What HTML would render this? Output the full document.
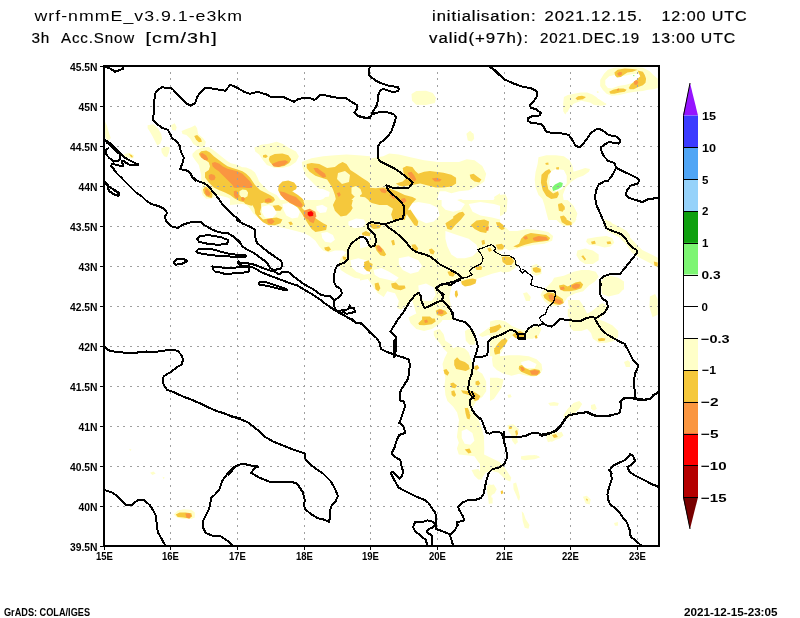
<!DOCTYPE html><html><head><meta charset="utf-8"><style>html,body{margin:0;padding:0;background:#fff;overflow:hidden}svg{display:block}</style></head><body><svg width="800" height="618" viewBox="0 0 800 618"><rect width="800" height="618" fill="#fff"/><defs><clipPath id="mc2"><rect x="105" y="67" width="553" height="478"/></clipPath></defs><g clip-path="url(#mc2)" stroke="none"><path fill="#ffffc8" d="M147.6,125.2 153.4,124.3 158.3,129.1 161.2,134.0 162.1,138.8 160.2,143.7 157.3,145.6 155.3,141.7 152.4,135.9 149.5,131.1 147.6,128.2Z M170.9,125.2 174.8,123.3 176.7,127.2 175.7,130.7 172.2,130.1Z M161.2,148.5 166.0,146.6 169.9,147.6 168.9,152.4 167.0,157.3 164.1,156.3 161.7,152.4Z M181.6,131.1 186.4,129.1 191.3,127.2 195.1,125.2 197.1,128.2 198.1,134.0 202.9,137.9 205.8,141.7 204.9,145.6 201.0,147.6 197.1,146.6 193.2,143.7 190.3,138.8 186.4,135.0 182.5,134.0Z M104.9,121.4 106.8,125.2 108.7,132.0 110.7,137.9 108.7,140.8 105.8,138.8 104.3,133.0Z M123.3,154.4 129.1,152.8 134.0,155.3 133.4,158.3 129.1,158.3 124.3,156.7Z M254.3,147.6 261.1,144.7 268.8,143.7 276.6,141.7 282.4,143.7 288.3,147.6 296.0,151.5 298.9,156.3 296.0,162.1 290.2,166.0 282.4,168.0 274.7,168.0 266.9,165.0 263.0,160.2 259.1,154.4 255.2,151.5Z M230.0,163.1 237.8,165.0 245.5,168.9 251.4,173.8 257.2,179.6 263.0,185.4 268.8,191.3 276.6,195.1 281.5,201.0 286.3,205.8 294.1,212.6 301.8,216.5 303.8,220.0 272.7,220.0 265.0,208.7 253.3,205.8 241.7,203.9 230.0,204.9Z M301.8,162.1 311.6,158.3 323.2,156.3 334.9,155.3 346.5,154.4 358.2,155.3 370.0,156.3 370.0,220.0 307.7,220.0 305.7,212.6 307.7,206.8 311.6,202.9 317.4,201.0 323.2,199.0 327.1,195.1 323.2,191.3 317.4,187.4 311.6,181.6 305.7,175.7 302.8,168.0Z M241.7,189.3 245.5,188.3 248.4,191.3 246.5,195.1 242.6,195.1Z M286.3,187.4 290.2,186.4 294.1,189.3 293.1,193.2 288.3,192.8Z M337.8,175.7 342.6,174.8 346.5,177.7 346.5,183.5 342.6,185.4 338.7,183.5Z M348.4,191.3 352.3,189.3 356.2,192.2 354.3,197.1 349.4,196.1Z M413.4,100.0 435.7,100.0 434.8,102.9 426.0,104.9 418.3,103.9 414.4,101.9Z M466.8,135.0 470.7,131.1 473.6,135.0 472.6,140.8 468.7,140.8Z M360.0,156.3 371.7,158.3 383.3,156.3 389.1,153.4 398.8,154.4 410.5,157.3 424.1,160.2 437.7,162.1 449.3,162.1 459.0,162.1 466.8,159.2 474.6,160.2 482.3,166.0 486.2,173.8 484.3,181.6 478.4,185.4 468.7,190.3 459.0,191.3 451.3,193.2 445.4,191.3 439.6,191.3 437.7,197.1 436.7,204.9 437.7,214.6 445.4,220.0 360.0,220.0Z M453.2,201.0 461.0,199.0 468.7,202.9 476.5,207.8 486.2,211.7 495.9,214.6 500.0,214.6 500.0,220.0 453.2,220.0Z M494.0,197.1 500.0,193.2 500.0,202.9 495.9,202.9Z M563.8,100.0 571.6,100.0 570.6,105.8 567.7,111.7 564.8,113.6 563.8,107.8Z M591.0,100.0 598.7,100.0 604.6,102.9 600.7,105.8 594.9,104.9Z M538.5,157.3 546.3,155.3 556.0,155.3 563.8,156.3 569.6,160.2 572.5,166.0 573.5,171.8 579.3,169.9 585.1,168.0 590.0,168.9 589.0,171.8 583.2,175.7 577.4,177.7 571.6,181.6 565.7,187.4 562.8,195.1 563.8,201.0 567.7,204.9 571.6,208.7 575.4,214.6 576.4,220.0 548.3,220.0 546.3,212.6 544.4,204.9 542.4,199.0 538.5,195.1 535.6,187.4 534.7,179.6 535.6,171.8 537.6,164.1Z M493.9,199.0 499.7,195.1 505.5,194.2 507.5,199.0 506.5,206.8 503.6,212.6 499.7,214.6 494.9,208.7 492.9,202.9Z M490.0,216.5 495.8,217.5 497.8,220.0 490.0,220.0Z M600.2,80.1 604.0,73.7 607.9,69.8 614.4,67.8 624.8,67.2 635.1,67.2 642.9,67.8 649.4,71.1 653.3,75.0 657.8,78.8 657.8,87.9 653.3,89.2 648.1,89.8 642.9,91.1 635.1,91.8 627.4,93.1 619.6,95.0 611.8,95.7 606.6,93.7 602.7,89.8 600.2,86.0Z M563.9,97.0 567.8,95.0 574.2,93.7 580.7,92.4 587.2,92.4 592.4,94.4 596.3,97.0 598.9,99.6 602.7,102.2 606.6,103.5 604.0,104.7 598.9,105.4 593.7,104.7 588.5,101.5 584.6,99.6 579.4,100.2 574.2,100.9 570.4,102.2 569.1,106.0 567.8,111.2 565.2,114.5 563.2,111.2 563.2,103.5Z M596.9,91.1 598.9,91.8 598.2,93.1 596.9,92.8Z M411.5,94.0 416.3,91.1 426.0,90.7 432.8,93.1 436.1,97.9 433.8,102.8 426.0,105.1 416.3,104.7 412.0,100.8Z M466.4,133.8 469.7,130.9 473.6,133.8 474.2,138.7 471.7,141.6 467.8,140.6Z M563.8,100.8 571.6,96.0 581.3,93.1 591.0,95.0 598.7,98.9 604.6,102.8 606.5,104.7 600.7,105.7 591.0,102.8 581.3,100.8 573.5,103.7 567.7,110.5 564.8,113.5 563.4,107.6Z M230.0,200.0 370.0,200.0 370.0,277.7 364.0,279.6 354.3,277.7 346.5,273.8 340.7,269.9 338.7,264.1 340.7,258.3 346.5,252.4 342.6,250.5 334.9,250.5 329.0,252.4 323.2,250.5 319.3,246.6 315.4,240.8 309.6,235.9 303.8,233.0 296.0,231.1 288.3,229.1 280.5,227.2 272.7,225.2 265.0,222.3 259.1,218.4 253.3,213.6 249.4,207.8 245.5,203.9 237.8,201.9 230.0,201.9Z M360.0,200.0 500.0,200.0 500.0,320.0 418.3,320.0 411.5,298.1 405.6,306.8 402.7,308.2 398.4,303.9 391.1,299.4 385.2,298.1 376.5,292.2 372.2,284.9 367.8,279.0 360.0,280.6Z M490.0,200.0 507.5,200.0 506.5,211.7 501.7,215.5 493.9,217.5 490.0,217.5Z M544.4,200.0 567.7,200.0 573.5,205.8 577.4,213.6 575.4,221.4 571.6,225.2 563.8,226.2 558.0,221.4 552.1,215.5 546.3,209.7Z M490.0,219.4 497.8,221.4 505.5,227.2 509.4,231.1 517.2,231.1 526.9,229.1 538.5,230.1 548.3,232.0 553.1,235.9 552.1,240.8 544.4,243.7 534.7,244.7 525.0,246.6 517.2,248.5 509.4,250.5 505.5,248.5 501.7,250.5 495.8,252.4 490.0,252.4Z M495.8,252.4 503.6,254.4 511.4,256.3 517.2,262.1 515.2,268.0 509.4,271.8 503.6,272.8 497.8,269.9 493.9,264.1 491.9,256.3Z M530.8,266.0 536.6,264.1 541.5,267.0 541.5,273.8 536.6,275.7 531.7,273.8Z M587.1,238.8 596.8,236.9 606.5,235.9 612.3,237.9 614.3,242.7 610.4,246.6 604.6,247.6 596.8,245.6 589.0,244.7 586.1,241.7Z M577.4,250.5 585.1,248.5 592.9,250.5 598.7,254.4 598.7,260.2 592.9,264.1 585.1,264.1 579.3,260.2 576.4,255.3Z M602.6,219.4 610.4,221.4 614.3,225.2 608.4,227.2 603.6,224.3Z M618.2,229.1 625.9,230.1 630.0,235.0 630.0,246.6 625.9,242.7 622.0,236.9 618.2,233.0Z M554.1,277.7 563.8,275.7 573.5,271.8 581.3,269.9 589.0,269.9 595.8,271.8 598.7,276.7 594.9,281.6 589.0,285.4 583.2,291.3 575.4,293.2 567.7,297.1 563.8,302.9 558.0,305.8 550.2,305.8 544.4,301.0 540.5,295.1 542.4,291.3 548.3,285.4 552.1,281.6Z M602.6,277.7 610.4,275.7 618.2,277.7 624.0,281.6 624.0,289.3 618.2,293.2 610.4,293.2 604.6,291.3 601.7,285.4Z M523.0,293.2 526.9,292.2 530.8,297.1 529.8,301.0 525.9,301.0Z M598.7,304.9 602.6,302.9 606.5,305.8 606.5,312.6 600.7,314.6 597.8,310.7Z M567.7,308.7 573.5,307.8 575.4,314.6 571.6,318.4 567.7,316.5Z M604.6,218.9 613.7,224.0 624.0,229.2 631.8,239.6 642.2,249.9 652.5,255.1 657.7,257.7 657.7,268.1 649.9,262.9 639.6,257.7 631.8,252.5 626.6,244.8 618.9,237.0 608.5,231.8 603.3,226.6Z M649.9,296.6 655.1,294.0 657.7,299.2 657.7,314.7 652.5,317.3 649.4,306.9Z M600.7,281.0 608.5,278.4 618.9,283.6 624.0,288.8 618.9,294.0 608.5,296.6 602.0,294.0Z M396.9,300.0 410.5,300.0 406.6,305.8 400.8,309.7 396.9,307.8Z M408.5,317.5 416.3,313.6 426.0,311.7 433.8,307.8 439.6,303.9 447.4,301.9 457.1,300.0 461.0,300.0 459.0,303.9 451.3,309.7 445.4,315.5 441.6,321.4 437.7,325.2 431.8,329.1 424.1,331.1 416.3,329.1 410.5,323.3Z M433.8,331.1 439.6,329.1 443.5,334.0 445.4,340.8 451.3,344.7 453.2,348.5 457.1,346.6 464.9,348.5 468.7,352.4 470.7,358.3 472.6,364.1 476.5,369.9 482.3,373.8 486.2,381.6 486.2,391.3 482.3,397.1 476.5,401.0 472.6,406.8 470.7,414.6 468.7,420.0 459.0,420.0 457.1,412.6 453.2,406.8 447.4,401.0 445.4,395.1 444.5,385.4 445.4,377.7 443.5,369.9 442.5,364.1 444.5,358.3 447.4,352.4 443.5,348.5 439.6,342.7 435.7,338.8 433.8,335.0Z M464.9,331.1 468.7,329.1 474.6,331.1 476.5,338.8 474.6,344.7 469.7,344.7 465.8,340.8Z M478.4,335.0 484.3,331.1 492.0,325.2 500.0,321.4 500.0,338.8 494.0,336.9 488.2,335.0 482.3,336.9Z M492.0,354.4 497.9,352.4 500.0,354.4 500.0,369.9 495.9,368.0 493.0,362.1Z M490.0,321.4 497.8,319.4 505.5,321.4 512.3,326.2 519.1,329.1 526.9,331.1 532.7,327.2 538.5,325.2 541.5,329.1 538.5,335.9 532.7,338.8 525.9,338.8 519.1,337.9 512.3,335.9 508.4,339.8 503.6,348.5 499.7,354.4 493.9,356.3 490.0,356.3Z M491.9,358.3 499.7,356.3 509.4,355.3 519.1,355.3 528.8,356.3 536.6,359.2 541.5,364.1 542.4,369.9 539.5,374.8 533.7,376.7 526.9,375.7 519.1,373.8 511.4,375.7 503.6,373.8 496.8,369.9 492.9,366.0Z M490.0,377.7 497.8,377.7 503.6,379.6 501.7,387.4 497.8,393.2 493.9,399.0 490.0,401.0Z M567.7,300.0 579.3,300.0 583.2,305.8 587.1,313.6 591.0,311.7 598.7,305.8 604.6,303.9 606.5,309.7 602.6,315.5 598.7,319.4 604.6,321.4 612.3,325.2 618.2,331.1 618.2,336.9 614.3,340.8 606.5,342.7 598.7,342.7 592.9,338.8 591.0,333.0 587.1,329.1 581.3,331.1 573.5,331.1 569.6,327.2 568.6,319.4 571.6,311.7 568.6,305.8Z M563.8,414.6 567.7,408.7 573.5,402.9 579.3,401.0 582.2,403.9 579.3,408.7 573.5,414.6 567.7,418.4 563.8,418.4Z M507.5,395.1 510.4,394.2 511.7,397.1 508.4,398.1Z M591.0,404.9 594.9,403.9 596.8,408.7 593.9,410.7 591.0,408.7Z M624.0,362.1 627.9,360.2 630.0,362.1 630.0,367.0 625.9,367.0Z M449.1,400.0 470.5,400.0 468.5,405.8 472.4,411.7 478.3,419.4 482.1,429.1 484.1,438.8 482.1,446.6 484.1,454.4 491.8,458.3 499.6,462.1 503.5,466.0 507.4,471.8 511.3,477.7 510.3,481.6 505.4,479.6 497.7,471.8 489.9,469.9 482.1,466.0 478.3,462.1 474.4,456.3 466.6,455.3 458.8,454.4 456.9,448.5 458.8,442.7 456.9,436.9 457.9,429.1 458.8,421.4 460.8,413.6 458.8,407.8 453.0,403.9Z M471.5,469.9 478.3,468.9 482.1,473.8 482.1,479.6 478.3,479.6 474.4,475.7Z M487.0,485.4 493.8,484.5 496.7,489.3 494.8,493.2 491.8,495.1 489.9,501.0 491.8,502.9 488.9,503.9 488.0,497.1 487.0,491.3Z M513.2,483.5 516.1,482.5 518.1,489.3 520.0,497.1 519.0,501.0 516.1,495.1 513.6,489.3Z M507.4,425.2 513.2,424.3 519.0,429.1 517.1,436.9 517.1,442.7 515.1,444.7 512.2,440.8 511.3,435.0 508.3,431.1Z M521.0,456.3 528.7,455.3 536.5,455.3 540.4,457.3 534.6,459.2 524.9,460.2 521.0,459.2Z M546.2,433.0 554.0,431.1 558.8,433.0 557.9,438.8 552.0,441.7 547.2,440.8Z M548.2,402.9 554.0,401.9 558.8,402.9 557.9,405.8 550.1,405.8Z M480.0,433.6 483.9,435.5 484.3,449.1 483.9,459.8 491.7,460.8 499.4,464.7 504.3,469.5 509.1,474.4 511.1,479.2 507.2,480.2 502.3,476.3 498.4,472.4 491.7,470.9 485.8,472.4 481.9,478.3 480.0,478.3Z M513.0,437.5 516.9,437.5 517.9,442.3 515.0,444.3 513.0,441.4Z M520.8,456.9 526.6,455.9 534.4,455.0 539.2,455.9 536.3,457.9 528.5,458.8 522.7,459.8Z M546.0,437.5 553.8,434.6 561.6,431.7 563.5,435.5 559.6,438.4 553.8,440.4 548.0,442.3Z M488.7,484.1 493.6,486.0 496.5,489.9 493.6,493.8 490.7,493.8 488.7,489.9Z M489.7,496.7 492.6,497.7 492.6,503.5 490.1,503.5Z M514.0,484.1 516.9,486.0 518.8,493.8 519.8,499.6 517.9,499.6 515.0,491.8Z M521.7,511.3 523.7,513.2 525.6,519.0 529.5,524.9 528.5,528.7 524.7,527.8 522.7,521.0Z M582.9,496.7 586.8,495.7 590.7,499.6 589.7,504.5 585.8,503.5Z M614.0,522.9 617.9,521.9 617.9,525.8 615.0,525.8Z M173.8,514.5 177.7,510.6 183.5,509.3 191.3,509.7 194.8,512.6 194.8,517.4 191.3,519.0 183.5,519.0 176.7,517.4Z M129.1,448.7 131.5,449.5 130.3,451.0Z M150.1,472.8 153.4,471.4 155.7,473.4 152.4,474.9Z M162.5,476.7 164.7,477.4 163.7,479.2Z M192.5,153.8 196.2,150.0 202.5,147.5 208.8,146.9 215.0,151.2 221.2,156.2 227.5,161.2 233.8,165.0 240.0,166.9 246.2,167.5 251.2,169.4 255.0,172.5 257.5,177.5 260.0,183.8 262.5,188.8 267.5,192.5 275.0,195.0 277.5,198.8 277.5,202.5 273.8,205.0 267.5,206.2 263.8,207.5 262.5,211.2 262.5,215.0 255.0,215.0 252.5,210.0 247.5,205.0 242.5,203.8 237.5,202.5 232.5,200.0 227.5,197.5 222.5,196.2 217.5,195.0 213.8,197.5 211.2,198.8 206.2,198.8 202.5,195.0 201.2,190.0 202.5,185.0 201.2,180.0 201.2,175.0 200.0,170.0 198.8,165.0 195.0,160.0 192.5,156.2Z"/><path fill="#ffffff" d="M550.2,171.8 556.0,168.9 563.8,169.9 566.7,175.7 566.7,183.5 561.8,189.3 557.0,191.3 551.2,189.3 549.2,183.5Z M605.3,80.1 609.2,76.2 614.4,75.0 620.9,76.2 626.1,75.6 631.2,74.3 637.7,73.7 641.0,75.0 639.0,78.8 632.5,82.7 626.1,84.7 618.3,86.0 611.8,88.6 607.9,87.9 605.3,84.7Z M262.0,206.8 268.8,204.9 275.6,207.8 276.6,213.6 271.7,218.4 265.0,217.5 262.0,212.6Z M282.4,203.9 288.3,202.9 296.0,205.8 299.9,211.7 298.0,217.5 292.1,218.4 286.3,215.5 283.4,209.7Z M348.4,221.4 356.2,218.4 364.0,219.4 365.9,223.3 362.0,227.2 354.3,228.2 348.4,225.2Z M350.4,260.2 358.2,258.3 365.9,260.2 370.0,264.1 370.0,273.8 364.0,274.8 356.2,271.8 351.4,267.0Z M321.3,233.0 327.1,232.0 332.9,235.0 334.9,239.8 331.0,242.7 325.1,241.7 322.2,237.9Z M408.5,203.9 418.3,201.9 429.9,203.9 437.7,207.8 439.6,215.5 433.8,221.4 426.0,223.3 418.3,219.4 412.4,213.6Z M360.0,235.0 365.8,234.0 369.7,238.8 367.8,246.6 360.0,248.5Z M373.6,269.9 381.4,268.0 389.1,271.8 398.8,277.7 395.0,281.6 387.2,279.6 379.4,277.7 374.6,274.8Z M441.6,200.0 457.1,200.0 464.9,203.9 461.0,209.7 453.2,211.7 445.4,209.7 441.6,205.8Z M468.7,203.9 480.4,201.9 494.0,203.9 500.0,205.8 500.0,219.4 492.0,217.5 480.4,215.5 472.6,211.7Z M445.4,231.1 457.1,235.0 468.7,238.8 476.5,244.7 478.4,250.5 472.6,256.3 464.9,258.3 457.1,258.3 451.3,254.4 447.4,246.6 445.4,238.8Z M453.2,281.6 468.7,281.6 480.4,277.7 492.0,273.8 500.0,271.8 500.0,320.0 453.2,320.0 451.3,308.7 449.3,297.1 451.3,287.4Z M367.8,287.4 375.5,289.3 379.4,297.1 377.5,304.9 371.7,308.7 365.8,304.9 363.9,297.1Z M387.2,291.3 395.0,293.2 398.8,301.0 396.9,308.7 391.1,312.6 383.3,310.7 381.4,301.0Z M398.8,258.3 408.5,256.3 418.3,260.2 422.1,266.0 418.3,271.8 410.5,273.8 402.7,269.9 398.8,264.1Z M418.3,285.4 426.0,283.5 433.8,287.4 435.7,295.1 431.8,301.0 424.1,301.0 419.2,295.1Z M521.1,362.1 528.8,360.2 536.6,364.1 534.7,368.0 526.9,368.0 522.0,366.0Z M461.7,431.1 466.6,429.1 472.4,433.0 474.4,440.8 470.5,444.7 464.7,443.7 461.7,437.9Z M305.0,190.5 312.5,188.2 323.0,189.0 329.7,192.0 329.0,196.5 320.0,198.0 311.0,197.2 305.7,195.0Z M316.2,206.2 322.2,204.7 327.5,207.7 326.0,212.2 320.0,213.0 316.7,210.0Z"/><path fill="#f5c83c" d="M194.2,135.9 197.1,135.0 201.0,138.8 201.9,141.7 199.0,142.3 196.1,139.8Z M202.9,189.3 205.8,186.4 209.7,189.3 212.6,194.2 211.7,198.1 207.8,197.1 203.9,193.2Z M129.1,154.0 132.0,155.3 133.0,157.3 131.1,157.3Z M269.8,156.3 274.7,154.0 282.4,153.4 288.3,155.3 291.2,159.2 289.2,163.1 284.4,166.0 278.5,167.0 273.7,166.0 269.8,162.1 268.8,159.2Z M263.0,155.3 265.9,154.4 267.9,156.3 265.9,157.9 263.0,157.3Z M278.5,185.4 282.4,181.6 288.3,180.6 294.1,182.5 297.0,186.4 296.0,189.3 292.1,191.3 298.0,195.1 302.8,199.0 304.8,204.9 301.8,207.8 296.0,205.8 290.2,202.9 284.4,199.0 280.5,195.1 278.2,190.3Z M306.7,164.1 311.6,163.1 319.3,164.1 327.1,168.0 334.9,167.0 338.7,164.1 342.6,162.1 346.5,164.1 350.4,169.9 356.2,173.8 362.0,177.7 367.9,181.6 370.0,183.5 370.0,201.0 365.9,199.0 362.0,195.1 358.2,193.2 354.3,197.1 350.4,201.0 346.5,204.9 344.6,210.7 346.5,214.6 342.6,216.5 338.7,214.6 334.9,210.7 332.9,204.9 335.8,199.0 334.9,195.1 332.9,189.3 331.0,185.4 327.1,179.6 321.3,177.7 315.4,175.7 309.6,171.8 306.7,168.0Z M402.7,168.0 406.6,166.0 412.4,167.0 415.3,170.9 418.3,173.8 424.1,171.8 429.9,170.9 435.7,171.8 443.5,172.8 451.3,174.8 456.1,177.7 456.1,183.5 451.3,186.4 443.5,187.4 435.7,187.4 428.0,185.4 420.2,183.5 414.4,184.5 408.5,185.4 402.7,186.4 398.8,185.4 395.9,183.5 402.7,181.6 406.6,177.7 403.7,173.8Z M360.0,185.4 367.8,187.4 375.5,188.3 383.3,187.4 389.1,188.3 396.9,191.3 404.7,195.1 412.4,197.1 416.3,199.0 412.4,202.9 408.5,208.7 406.6,214.6 404.7,220.0 393.0,220.0 391.1,214.6 393.0,208.7 387.2,204.9 379.4,204.9 371.7,202.9 365.8,199.0 360.0,198.1Z M469.7,174.8 473.6,173.8 477.5,176.7 481.4,179.6 479.4,182.5 474.6,181.6 470.7,178.6Z M453.2,216.5 459.0,212.6 462.9,211.7 464.9,214.6 461.0,218.4 457.1,220.0 453.2,220.0Z M541.5,174.8 545.3,170.9 549.2,168.9 551.2,171.8 548.3,174.8 546.7,181.6 548.3,189.3 553.1,193.6 558.0,191.3 558.9,194.2 557.0,198.1 551.2,199.0 546.3,196.1 542.8,190.3 540.9,182.5Z M545.3,163.1 548.3,162.5 548.6,164.7 545.9,164.7Z M556.0,167.6 558.9,167.0 558.9,169.5 556.4,169.5Z M558.0,204.9 561.8,203.9 564.8,207.8 562.8,211.7 558.9,210.7Z M560.9,216.5 563.8,215.5 566.7,218.4 564.8,220.0 560.9,220.0Z M614.4,72.4 617.6,69.8 624.8,68.5 632.5,69.1 637.7,69.8 632.5,71.7 627.4,72.4 623.5,75.0 620.9,76.9 617.0,77.5 615.1,75.6Z M637.7,70.4 642.9,71.7 644.8,75.0 646.1,78.8 645.5,82.7 642.9,85.3 637.7,87.3 633.8,89.2 629.9,89.2 628.7,87.9 630.6,84.7 633.8,82.1 637.7,78.8 640.3,76.2 639.0,73.7Z M609.2,91.8 613.1,89.8 618.3,88.6 623.5,88.6 626.7,89.8 624.8,91.8 619.6,92.4 614.4,93.7 610.5,93.7Z M575.5,98.3 578.1,96.3 582.0,95.7 585.9,97.0 584.6,98.3 580.7,98.9 577.5,100.2Z M575.4,97.9 581.3,96.0 585.1,97.0 583.2,99.3 577.4,99.9Z M241.7,200.0 257.2,200.0 255.2,203.9 251.4,205.8 245.5,203.9Z M253.3,201.9 261.1,200.0 261.1,207.8 259.1,215.5 263.0,219.4 268.8,218.4 276.6,217.5 282.4,219.4 280.5,223.3 274.7,225.2 268.8,225.2 263.0,222.3 259.1,218.4 255.2,213.6 254.3,207.8Z M272.7,205.8 278.5,204.9 282.4,207.8 280.5,210.7 275.6,210.7Z M286.3,200.0 303.8,200.0 301.8,207.8 305.7,211.7 311.6,215.5 317.4,219.4 323.2,223.3 327.1,225.2 326.1,230.1 321.3,231.1 315.4,232.0 311.6,229.1 307.7,223.3 304.8,218.4 301.8,213.6 298.0,207.8 292.1,203.9Z M288.3,222.3 291.2,221.4 293.1,224.3 290.2,225.2Z M334.9,203.9 342.6,200.0 356.2,200.0 354.3,205.8 350.4,211.7 346.5,215.5 340.7,216.5 335.8,211.7Z M324.2,247.6 329.0,246.6 331.0,249.5 328.1,251.5 325.1,250.1Z M342.6,256.3 346.5,257.3 345.5,260.2 343.0,259.2Z M364.0,262.1 368.8,260.2 370.0,264.1 370.0,271.8 366.9,270.9 365.0,267.0Z M362.0,233.0 365.9,231.1 370.0,233.0 370.0,235.9 365.9,235.9Z M375.5,200.0 398.8,200.0 400.8,203.9 395.0,204.9 385.2,203.9 377.5,203.9Z M405.6,210.7 410.5,209.7 414.4,215.5 418.3,221.4 417.3,226.2 414.4,225.2 410.5,219.4 407.6,215.5Z M445.4,223.3 451.3,219.4 457.1,215.5 462.9,211.7 464.9,214.6 461.0,219.4 455.1,225.2 451.3,230.1 447.4,229.1Z M470.7,225.2 476.5,220.4 484.3,219.4 489.1,221.4 488.2,227.2 486.2,233.0 480.4,232.0 474.6,229.1Z M369.7,223.3 375.5,224.3 381.4,225.2 379.4,228.2 373.6,229.1 370.7,227.2Z M361.9,233.0 365.8,232.0 368.7,234.0 365.8,235.9 362.3,235.3Z M374.6,245.6 378.4,244.7 383.3,249.5 386.2,254.4 384.3,256.3 380.4,255.3 376.5,250.5Z M391.1,240.8 394.0,239.8 395.0,244.7 392.6,245.6Z M411.5,244.7 415.3,244.3 418.3,248.5 416.3,251.5 413.4,250.1Z M428.9,249.5 431.8,248.5 434.8,251.5 433.4,254.4 430.3,253.4Z M363.9,264.1 368.7,262.1 372.6,264.1 371.7,268.9 366.8,270.9 363.9,268.0Z M374.6,283.5 378.4,282.5 380.4,288.3 378.4,291.3 375.5,289.3Z M391.1,283.5 395.9,282.5 398.8,285.4 404.7,285.4 405.6,288.3 400.8,290.3 395.0,289.3 392.0,287.4Z M447.4,271.8 451.3,270.9 455.1,273.8 453.2,276.7 449.3,275.7Z M461.0,281.6 466.8,279.6 472.6,278.6 476.5,279.6 475.5,283.5 470.7,285.4 464.9,286.4 461.9,284.5Z M474.6,266.0 478.4,265.0 482.3,267.0 481.4,269.9 476.5,269.9Z M455.1,291.3 457.1,290.3 458.1,295.1 456.1,298.1 454.8,295.1Z M435.7,310.7 439.6,308.7 444.5,310.7 445.4,314.6 441.6,316.5 436.7,314.6Z M481.4,240.8 484.3,239.8 485.2,243.7 482.3,245.0Z M487.2,248.5 490.1,247.6 492.0,250.5 489.1,252.0Z M422.1,316.5 429.9,316.5 433.8,320.0 422.1,320.0Z M558.0,203.9 561.8,202.9 564.8,206.8 564.8,209.7 559.9,209.7Z M559.9,216.5 563.8,215.5 566.7,219.4 571.6,222.3 571.6,225.2 566.7,225.2 561.8,222.3Z M495.8,222.3 499.7,222.3 503.6,225.2 504.6,229.1 501.7,230.1 497.8,227.2Z M513.3,246.6 519.1,243.7 521.1,238.8 525.0,235.0 530.8,233.0 538.5,234.0 546.3,235.0 550.2,237.9 548.3,240.8 540.5,241.7 532.7,242.7 525.0,244.7 517.2,247.6Z M495.8,244.7 501.7,243.7 504.6,246.6 502.6,249.5 497.8,249.5Z M501.7,257.3 505.5,256.3 511.4,257.3 514.3,261.2 511.4,265.0 506.5,265.0 502.6,262.1Z M532.7,268.0 536.6,267.0 540.9,268.9 540.5,272.2 535.6,272.8 533.1,270.9Z M558.9,285.4 563.8,284.5 567.7,286.4 571.6,284.5 575.4,282.5 580.3,281.6 583.2,284.5 581.3,288.3 575.4,290.3 569.6,291.3 563.8,291.3 559.9,289.3Z M543.4,295.1 548.3,292.2 554.1,293.2 558.0,296.1 562.8,299.0 563.8,302.9 559.9,304.9 554.1,303.9 548.3,301.0 544.4,298.1Z M581.3,256.3 583.2,255.3 586.1,259.2 584.8,260.6Z M591.0,241.7 594.9,240.8 595.8,243.7 591.9,244.3Z M606.5,241.7 610.4,241.2 611.4,243.7 607.5,244.3Z M653.8,261.6 657.7,262.4 657.7,266.8 654.4,265.5Z M418.3,323.3 422.1,319.4 428.0,318.4 434.8,318.4 435.7,321.4 431.8,324.3 424.1,325.2 419.2,324.9Z M435.7,310.7 439.6,308.7 445.4,310.7 447.4,313.6 443.5,315.5 437.7,315.5Z M489.1,329.1 494.0,326.2 500.0,324.3 500.0,329.1 495.9,332.0 491.1,333.0Z M494.0,348.5 497.9,345.6 500.0,345.6 500.0,353.4 495.9,354.4Z M454.2,360.2 457.1,357.3 460.0,360.2 464.9,362.1 468.7,365.0 469.7,368.9 465.8,370.9 461.0,369.9 456.1,368.9 454.2,365.0Z M474.6,366.0 477.5,365.0 479.4,368.0 476.5,370.3 474.2,368.9Z M443.5,369.9 446.4,368.9 449.3,372.8 447.4,375.7 444.5,373.8Z M450.3,383.5 453.2,382.5 457.1,385.4 455.1,388.3 451.3,387.4Z M451.3,391.3 454.2,390.3 456.1,395.1 454.2,397.1 451.7,395.1Z M461.0,390.3 466.8,390.9 472.6,391.3 476.5,393.2 480.4,396.1 478.4,400.0 474.6,401.0 472.6,397.1 468.7,395.1 462.9,393.2Z M475.5,381.6 478.4,380.6 480.4,383.5 478.1,385.8 475.5,384.5Z M464.9,408.7 467.8,407.8 469.7,412.6 468.7,416.5 465.8,414.6Z M490.0,327.2 493.9,326.2 499.7,324.3 501.7,327.2 497.8,330.1 491.9,333.0 490.0,333.0Z M493.9,350.5 495.8,346.6 498.7,342.7 501.7,339.8 505.5,337.9 507.5,340.8 504.6,345.6 500.7,349.5 497.8,353.4 494.9,354.4Z M512.3,335.0 516.2,332.0 520.1,331.1 524.0,333.0 525.0,336.9 521.1,338.8 515.2,337.9Z M534.7,335.9 536.6,335.0 537.6,337.9 535.6,338.8Z M519.1,366.0 522.0,365.0 525.0,368.0 529.8,369.9 534.7,368.9 539.5,369.9 540.5,372.8 536.6,375.7 530.8,375.7 525.9,373.8 521.1,371.8 518.7,368.9Z M597.8,338.8 601.7,337.9 605.5,338.4 604.6,340.8 598.7,341.2Z M464.7,407.8 467.6,408.7 470.5,415.5 469.5,419.4 467.0,418.4 465.6,413.6Z M464.7,449.5 469.5,448.5 471.5,452.4 468.5,453.4Z M509.3,426.2 512.2,427.2 511.3,429.1 508.9,428.7Z M515.1,431.1 517.1,430.1 518.1,434.0 516.1,435.9Z M552.0,435.0 555.9,434.0 557.9,436.9 554.0,437.9Z M500.6,491.3 502.5,490.3 503.5,493.2 501.2,494.2Z M585.8,498.6 587.8,499.2 587.2,501.6Z M175.7,514.5 179.6,512.6 185.4,512.6 191.3,513.2 192.2,516.5 189.3,518.4 183.5,517.4 177.7,517.0Z M198.8,153.8 201.2,151.2 206.2,150.6 210.0,152.5 213.8,156.2 218.8,160.0 223.8,163.8 227.5,166.2 232.5,168.1 237.5,169.4 242.5,171.2 246.2,173.8 250.0,177.5 252.5,181.2 255.0,185.0 257.5,187.5 260.0,190.0 265.0,192.5 270.0,195.0 273.8,197.5 275.0,200.0 272.5,202.5 267.5,203.8 263.8,202.5 260.0,203.8 258.8,207.5 260.0,211.2 261.2,215.0 256.2,215.0 255.0,210.0 252.5,205.0 248.8,202.5 245.0,202.5 240.0,201.2 235.0,198.8 230.0,195.0 225.0,192.5 218.8,190.0 213.8,187.5 208.8,182.5 205.0,177.5 205.0,172.5 208.8,170.0 210.0,166.2 208.8,162.5 203.8,158.8 200.0,156.2Z M203.8,187.5 206.2,186.9 208.8,189.4 211.9,192.5 212.5,196.2 210.0,197.5 206.2,196.2 203.8,192.5Z"/><path fill="#ffffc8" d="M338.0,173.0 345.0,171.0 350.0,175.0 349.0,182.0 342.0,184.0 337.0,179.0Z M239.4,191.2 242.5,189.4 246.2,190.0 248.1,192.5 247.5,196.2 245.0,197.8 241.2,196.9 239.4,194.4Z M351.5,187.5 356.0,186.0 360.5,189.0 362.0,193.5 359.0,196.5 354.5,196.5 351.5,193.5Z M353.0,199.5 359.0,196.5 365.0,197.2 368.7,200.2 369.5,205.5 365.0,209.2 359.0,210.7 353.7,210.0 351.5,205.5Z"/><path fill="#fa9641" d="M204.9,191.3 207.8,189.7 210.7,193.2 208.7,196.1 205.8,194.8Z M271.7,164.1 278.5,161.2 285.3,160.2 288.3,162.1 284.4,165.0 278.5,167.0 273.7,166.4Z M279.5,191.3 284.4,192.2 290.2,195.1 296.0,197.1 299.9,201.0 302.8,204.9 300.9,207.8 296.0,205.8 290.2,202.9 284.4,199.0 280.9,195.1Z M313.5,168.0 317.4,168.0 321.3,170.9 325.1,173.8 326.1,176.7 323.2,177.7 319.3,174.8 315.4,171.8Z M336.8,193.2 339.7,192.2 340.7,195.1 338.7,197.1Z M303.8,210.7 309.6,208.7 315.4,211.7 316.4,216.5 313.5,219.4 307.7,219.4 303.8,216.5Z M407.6,172.8 411.5,171.8 414.4,175.7 416.3,179.6 414.4,181.6 410.5,178.6Z M431.8,178.6 436.7,177.7 441.6,179.6 439.6,181.6 434.8,181.6Z M379.4,189.3 383.3,188.3 387.2,191.3 385.2,193.2 381.4,192.2Z M389.1,195.1 393.0,194.2 396.9,197.1 394.0,199.0Z M400.8,199.0 404.7,198.1 406.6,201.0 403.7,202.9Z M617.0,73.7 619.6,71.7 622.2,72.4 621.5,75.0 618.9,76.0Z M633.8,81.4 636.4,80.1 638.4,82.1 637.1,84.7 634.5,84.7Z M617.0,89.2 618.9,88.6 618.9,90.5 617.3,90.8Z M266.9,219.4 271.7,218.4 274.7,221.4 271.7,224.3 267.9,223.3Z M304.8,210.7 309.6,209.7 314.5,212.6 315.4,218.4 313.5,223.3 309.6,221.4 306.7,216.5Z M289.2,200.0 296.0,200.0 297.0,202.9 292.1,203.9Z M376.5,246.6 379.4,245.6 382.3,249.5 381.4,252.4 378.4,250.9Z M437.7,311.7 441.6,310.7 443.5,313.6 439.6,314.6Z M486.2,227.2 489.1,226.2 488.2,231.1 485.8,230.1Z M399.8,200.0 405.6,200.0 403.7,202.9 400.8,202.3Z M523.0,236.9 526.9,235.9 527.9,238.8 525.0,239.8Z M532.7,237.9 538.5,235.9 546.3,236.9 548.3,239.8 542.4,240.8 536.6,241.2 533.7,240.4Z M548.3,295.1 552.1,294.2 554.1,297.1 557.0,299.0 560.9,300.0 562.8,302.9 558.9,303.9 554.1,301.9 549.2,299.0Z M571.6,285.4 576.4,283.5 580.3,284.5 579.3,287.4 575.4,288.9 572.5,288.3Z M559.9,287.4 563.8,286.4 564.8,289.3 560.9,290.3Z M437.7,310.7 441.6,309.7 443.9,311.7 441.6,314.0 438.1,313.6Z M424.1,320.4 427.0,319.4 428.0,322.3 425.0,322.9Z M520.1,367.0 523.0,367.0 525.0,369.9 522.0,371.5Z M529.8,370.9 534.7,369.9 539.5,370.9 537.6,374.8 531.7,374.8Z M185.4,513.6 189.3,513.2 191.3,515.5 189.3,518.4 186.4,517.4Z M200.0,153.8 202.5,153.1 206.2,155.6 208.1,158.8 207.5,160.6 204.4,160.0 201.2,157.5Z M211.9,163.1 215.0,161.9 219.4,163.8 222.5,166.2 227.5,168.8 232.5,170.0 237.5,171.2 242.5,173.8 246.2,177.5 250.0,181.2 252.5,185.0 251.9,188.1 247.5,188.1 243.8,187.5 240.0,187.5 236.2,188.1 233.8,187.5 232.5,185.0 230.0,182.5 227.5,180.0 225.0,177.5 221.2,173.8 218.8,171.2 215.0,168.8 212.5,166.2Z M208.8,175.0 211.2,174.0 214.4,175.0 215.6,177.5 214.4,180.0 211.2,180.6 208.8,178.8Z M233.8,191.2 236.2,190.6 238.1,193.1 238.8,196.2 237.5,198.8 235.0,197.5 233.8,195.0Z M241.2,197.5 243.1,196.9 245.0,198.8 243.8,201.2 241.5,200.6Z M265.0,199.4 268.8,198.1 271.9,199.4 271.2,201.9 267.5,202.5 265.0,201.9Z M205.0,189.4 206.9,188.8 208.8,191.2 210.0,195.0 208.8,196.2 206.2,193.8Z"/><path fill="#ff0000" d="M307.7,212.2 311.2,211.1 313.5,213.0 312.7,216.1 309.6,216.5 307.7,215.0Z M309.6,212.6 312.5,212.6 313.5,215.5 310.6,215.9Z"/><path fill="#7df573" d="M552.1,187.4 555.0,184.5 559.9,181.9 562.8,183.1 562.2,186.4 558.0,189.3 553.1,190.9Z M633.2,75.0 634.5,75.2 634.2,76.2 633.2,76.0Z"/></g><path d="M170.5 67V545M237.5 67V545M304.5 67V545M370.5 67V545M437.5 67V545M504.5 67V545M570.5 67V545M637.5 67V545" stroke="#a0a0a0" stroke-width="1" stroke-dasharray="1.8 4.867" stroke-dashoffset="1.9" fill="none" shape-rendering="crispEdges"/><path d="M105 106.5H658M105 146.5H658M105 186.5H658M105 226.5H658M105 266.5H658M105 306.5H658M105 346.5H658M105 386.5H658M105 426.5H658M105 466.5H658M105 506.5H658" stroke="#a0a0a0" stroke-width="1" stroke-dasharray="2 4.667" stroke-dashoffset="1.667" fill="none" shape-rendering="crispEdges"/><defs><clipPath id="mc"><rect x="104" y="66" width="555" height="480"/></clipPath></defs><g clip-path="url(#mc)" fill="none" stroke="#000" stroke-linejoin="round" stroke-linecap="round" shape-rendering="crispEdges"><path d="M229.1,86.3 225.2,90.7 216.5,89.2 205.8,87.6 201.0,91.5 197.1,97.0 195.1,103.2 190.3,105.7 185.4,102.8 179.6,97.0 172.2,88.6 162.1,87.2 157.5,90.2 154.8,94.0 154.4,100.8 153.8,112.5 153.0,120.3 156.7,123.7 162.5,128.0 167.6,129.6 170.3,134.2 172.2,138.3 177.3,142.0 179.6,145.5 180.8,151.7 183.9,157.5 182.5,163.0 180.2,169.2 185.8,170.0 189.7,172.3 192.4,177.0 195.5,180.8 M104.3,66.9 109.7,68.2 115.1,71.7 119.4,70.2 122.9,68.8 123.7,66.3 M105.1,140.1 109.8,143.2 115.0,148.4 120.1,153.5 125.3,157.9 130.5,160.8 135.2,163.1 138.5,164.4 138.3,165.2 131.0,165.4 128.4,164.2 125.1,162.1 122.7,160.5 121.7,161.3 121.9,162.9 123.0,164.2 122.7,166.0 119.9,166.2 117.8,164.7 115.0,164.5 113.1,163.4 111.6,164.4 111.3,166.2 112.9,168.1 114.4,169.9 M106.7,142.4 110.8,145.8 115.5,150.4 119.9,154.3 120.5,157.6 119.4,160.0 117.0,161.1 113.7,161.6 109.3,157.9 106.1,154.3 105.6,151.2 106.9,149.1 108.2,148.4 M114.4,169.9 115.9,171.9 M104.5,181.6 106.8,183.8 108.5,186.1 107.9,188.9 109.6,191.8 114.7,194.8 118.1,195.7 119.5,194.0 117.6,191.8 112.5,188.9 107.4,185.5 M230.0,84.9 233.9,86.3 239.7,89.2 244.6,92.1 249.4,93.7 253.3,93.1 257.2,91.5 262.0,93.1 266.9,94.6 270.8,97.0 282.4,96.6 287.3,98.9 294.1,101.8 298.0,99.3 303.8,97.9 309.6,97.9 314.5,99.9 317.4,97.9 320.3,95.0 323.2,95.0 331.0,96.6 338.7,97.9 346.5,98.5 351.4,101.8 357.2,105.1 356.6,109.6 354.3,112.9 358.2,116.0 364.0,117.3 370.0,118.3 M369.7,65.9 369.3,69.8 368.7,74.6 371.7,77.5 375.5,80.4 381.4,83.4 387.2,85.3 392.0,86.3 397.9,86.9 398.8,89.2 397.9,91.1 393.0,92.1 388.2,90.7 384.3,89.2 381.4,89.6 379.4,92.1 378.4,95.0 377.9,100.8 376.5,105.7 373.6,110.5 371.7,114.0 374.6,113.5 379.4,112.1 385.2,112.1 390.1,112.9 394.0,114.4 395.9,117.3 395.0,121.2 393.0,127.0 391.1,131.9 388.2,135.8 384.3,139.7 380.4,142.6 378.4,145.5 377.5,151.3 377.5,157.1 379.4,161.0 383.3,163.0 389.1,165.9 395.0,168.8 400.8,172.7 405.6,176.6 410.5,180.4 M360.0,116.8 364.9,117.9 369.7,117.3 372.0,114.4 M490.1,66.9 500.0,75.6 M491.0,66.9 497.8,72.7 504.6,79.5 513.3,83.4 523.0,86.9 530.8,88.2 536.6,91.1 537.6,95.0 534.7,99.9 529.8,105.1 530.8,107.6 536.6,109.6 540.9,112.9 539.5,115.4 531.7,116.4 527.9,118.3 528.4,121.2 531.7,123.2 540.5,123.7 543.4,126.1 546.3,131.9 552.1,132.9 561.8,133.5 568.6,134.8 571.6,138.7 575.4,145.5 579.3,147.4 583.2,143.6 587.1,138.7 591.0,132.9 595.8,129.6 599.7,129.0 604.6,131.9 608.4,134.8 612.3,135.8 617.2,136.8 620.1,140.6 619.1,143.6 614.3,143.2 609.4,141.6 604.6,144.5 600.7,147.4 601.7,152.3 604.6,157.1 608.4,161.0 614.3,163.0 616.2,167.8 622.0,170.7 630.0,174.6 M616.2,167.8 614.3,171.7 611.4,176.6 607.5,181.4 M607.4,181.3 605.4,180.7 598.6,184.6 596.7,188.5 595.3,195.3 595.7,203.1 598.6,209.9 601.6,216.7 604.5,223.5 606.4,228.3 613.2,231.2 621.0,234.1 625.8,239.0 628.7,243.8 632.6,247.7 636.5,249.7 636.5,253.6 632.6,258.4 628.7,263.3 624.9,268.1 620.0,273.9 611.3,273.9 604.5,275.9 600.6,278.8 599.6,284.6 600.0,292.0 M629.9,174.5 636.5,177.8 639.4,180.7 637.5,183.7 630.7,185.6 626.8,190.4 625.8,195.3 629.7,198.2 636.5,200.2 642.3,202.1 648.2,199.2 655.9,198.2 660.0,197.6 M113.6,170.1 115.5,172.0 121.4,177.8 129.1,185.6 135.9,192.4 141.7,196.3 146.6,201.1 151.5,204.0 158.3,206.0 164.1,208.9 167.0,212.8 165.0,216.7 166.0,221.5 171.8,226.4 177.7,227.9 183.5,224.4 191.3,222.1 201.0,222.1 203.9,224.8 211.7,229.3 218.4,232.2 228.2,233.2 234.0,237.0 240.0,241.9 M189.3,172.0 192.2,176.9 197.1,180.7 204.9,183.7 208.7,186.6 212.6,191.4 217.5,197.2 222.3,204.0 228.2,209.9 234.0,215.7 240.0,220.5 M107.8,186.6 108.7,190.4 112.6,193.4 117.5,195.7 119.4,193.7 115.5,191.0 110.7,187.5 107.8,186.6 M103.9,180.7 107.8,186.6 M197.1,239.0 200.0,236.1 208.7,235.1 220.4,237.0 228.2,240.0 227.2,243.8 218.4,244.8 207.8,243.8 199.0,241.9 197.1,239.0 M173.8,262.3 176.7,259.4 183.5,259.0 187.4,260.9 183.5,263.3 175.7,264.8 173.8,262.3 M196.5,251.5 198.0,249.5 203.0,248.5 209.0,248.5 215.0,250.0 222.0,252.0 230.0,254.0 238.0,254.8 245.0,254.8 245.8,255.8 245.0,256.8 240.0,257.0 230.0,256.5 220.0,256.0 210.0,255.0 203.0,253.8 198.0,253.0 196.5,251.5 M236.9,220.0 242.7,223.6 251.8,227.5 255.4,230.4 255.1,235.5 255.7,239.4 M237.0,240.0 240.0,243.0 243.0,247.0 248.0,250.0 254.0,253.0 258.0,256.0 262.0,259.0 266.5,262.0 268.0,264.5 270.0,268.0 273.0,269.5 275.0,270.5 M255.5,238.0 256.0,240.0 257.0,243.0 262.0,247.0 268.0,252.0 274.0,256.0 279.0,259.5 281.5,261.5 282.0,266.0 281.0,268.5 277.0,269.2 274.5,270.5 M238.5,261.5 240.0,262.5 245.0,263.0 252.0,264.0 258.0,266.0 264.0,268.5 270.0,270.5 275.0,271.8 279.0,274.5 282.0,272.0 286.0,271.5 290.0,273.0 M238.5,261.5 238.2,263.5 239.5,265.0 243.0,265.8 248.0,266.2 252.0,267.0 256.0,269.0 260.0,271.5 268.0,275.0 276.0,278.0 284.0,281.0 290.0,283.2 M212.5,266.5 220.0,266.5 224.0,268.5 230.0,268.0 236.0,267.5 240.0,267.0 248.0,267.5 249.5,269.0 248.5,272.0 240.0,273.0 232.0,273.5 225.0,274.0 220.0,272.5 215.0,271.5 213.0,269.5 212.5,266.5 M258.5,283.0 260.0,281.5 264.0,281.5 270.0,283.5 276.0,285.5 282.0,287.5 286.0,289.0 287.0,290.0 286.0,290.2 280.0,289.0 272.0,287.0 265.0,285.5 259.0,284.5 258.5,283.0 M289.9,273.0 295.9,278.3 303.7,284.1 312.7,288.9 321.8,295.4 329.6,295.8 333.5,299.7 334.1,304.2 334.8,309.4 337.4,311.3 M347.7,255.0 348.0,259.5 343.8,262.8 337.4,265.4 334.8,270.5 333.5,280.9 336.1,286.1 340.6,288.9 341.9,293.2 339.9,296.7 334.1,300.3 M289.9,283.2 297.2,285.4 303.7,289.3 311.5,293.9 319.2,299.0 327.0,304.9 333.5,309.4 338.7,312.6 345.1,315.9 351.6,319.8 355.5,322.4 360.7,323.0 364.6,326.9 370.0,332.7 M337.4,312.0 341.9,310.1 347.7,309.4 349.7,305.5 349.3,308.1 354.2,307.5 354.8,312.0 350.3,313.0 346.4,313.9 343.8,312.0 338.7,313.3 M410.5,180.3 412.6,182.7 409.1,187.5 400.4,188.5 391.7,187.5 386.4,185.2 387.8,189.5 392.6,194.3 400.4,201.1 403.9,206.0 404.3,212.8 402.7,218.6 396.5,220.2 388.7,222.9 384.9,224.4 M384.9,224.4 377.1,222.9 371.3,222.1 367.4,224.0 367.8,228.3 371.3,231.2 374.8,235.1 376.1,240.9 374.8,245.4 370.9,246.8 368.3,243.8 367.0,240.0 364.5,237.6 360.6,237.0 355.7,240.0 350.9,244.2 348.3,249.7 348.0,255.5 M384.9,224.4 390.0,228.5 394.7,231.6 401.2,237.2 406.0,242.0 410.9,248.5 415.8,251.8 423.9,254.2 430.3,256.6 435.2,260.3 M430.0,256.4 435.2,260.3 440.4,264.8 446.8,268.0 453.3,271.3 458.5,274.5 461.7,277.7 M461.7,278.4 457.2,279.7 454.6,282.3 450.7,284.9 445.5,284.2 441.7,284.0 438.4,286.2 435.8,288.1 437.8,289.4 439.1,290.7 441.0,292.6 443.6,293.9 443.0,297.2 442.3,299.8 M442.3,299.8 445.5,303.7 449.4,308.2 452.7,312.7 453.3,315.1 M476.8,356.8 480.7,357.3 486.5,355.4 488.4,350.9 488.4,341.2 491.4,338.3 501.1,334.8 510.8,329.6 515.6,331.5 517.6,334.4 518.5,338.3 524.4,338.3 525.3,333.5 528.3,328.6 534.1,324.7 538.9,325.7 542.8,323.7 547.7,325.7 551.6,326.7 555.4,323.7 560.3,318.9 567.1,319.9 574.9,320.8 580.7,320.8 586.5,317.9 591.4,317.0 M591.4,317.0 596.2,317.9 604.0,313.1 607.9,307.2 606.9,301.4 602.0,298.5 600.1,293.7 600.1,287.8 601.1,283.9 M594.4,317.9 598.3,324.7 602.1,330.5 607.0,334.4 613.8,338.3 618.6,341.2 624.5,343.7 627.4,349.0 630.3,354.8 633.2,360.6 638.1,365.5 637.1,369.4 635.1,373.3 634.2,379.1 634.2,386.9 635.1,393.7 635.1,397.5 M619.6,402.0 623.5,398.5 631.3,398.1 637.1,399.5 644.9,399.5 650.7,398.5 653.6,394.6 657.5,392.7 658.8,391.7 M351.7,318.8 355.5,322.7 361.4,323.7 365.2,326.6 371.1,333.4 376.9,338.3 379.8,343.1 380.8,348.9 386.6,351.8 392.4,353.8 395.3,354.8 398.3,356.1 404.1,357.7 408.9,359.6 409.9,365.4 408.9,373.2 408.0,379.0 404.1,384.9 401.2,389.7 399.8,394.6 399.8,400.0 M394.4,356.7 394.0,348.0 395.3,342.1 396.3,337.3 390.5,331.5 393.4,326.6 398.3,318.8 404.1,311.1 409.9,301.4 414.8,295.5 418.6,292.6 420.6,295.5 421.6,301.4 424.5,308.2 431.3,305.2 437.1,302.3 441.9,300.4 442.9,296.5 441.0,292.6 437.1,289.7 436.1,287.8 441.0,284.9 448.7,282.9 456.5,281.0 460.4,280.0 M441.9,300.4 444.9,303.3 448.7,306.2 451.7,312.0 453.6,318.8 458.4,320.4 464.3,321.7 469.1,325.6 472.0,330.5 475.0,336.3 476.9,342.1 477.9,347.0 475.9,353.8 474.0,359.6 473.0,365.4 472.0,373.2 469.1,381.0 468.2,388.7 470.1,394.6 474.0,398.4 M399.8,392.0 400.2,396.9 400.6,400.7 404.1,401.7 405.0,406.6 403.1,412.4 401.2,418.2 399.2,423.1 402.1,425.0 404.1,427.9 405.0,432.8 M405.2,433.0 399.4,434.9 396.5,440.7 394.6,447.5 391.7,453.4 395.5,457.2 400.4,460.2 401.4,466.0 402.9,470.8 402.3,475.7 399.4,478.6 395.5,474.7 392.6,471.8 390.7,472.8 393.6,478.6 398.4,487.3 405.2,491.2 415.0,496.1 424.7,500.0 428.5,502.9 431.5,507.7 435.3,512.6 436.3,519.4 436.3,529.1 442.1,531.0 448.9,533.9 450.9,537.8 452.8,544.6 453.4,548.5 M427.6,545.6 425.6,539.8 419.8,534.9 415.0,531.0 413.0,527.1 415.0,522.3 421.7,522.3 427.6,520.3 432.4,521.7 435.3,524.2 433.4,527.1 428.5,529.1 426.6,532.0 428.5,533.9 431.5,534.9 431.5,545.6 M450.9,533.9 454.8,530.1 457.7,525.2 456.7,522.3 460.6,521.3 464.5,520.3 462.5,515.5 459.6,510.6 458.1,506.8 461.6,502.9 468.3,500.0 475.1,500.0 481.0,498.0 483.9,493.2 484.9,487.3 486.4,480.5 488.7,472.8 492.6,468.9 498.4,467.9 504.3,464.0 507.2,457.2 506.2,449.5 504.3,442.7 503.3,436.9 504.3,432.0 M472.0,392.0 474.0,395.9 470.1,399.8 469.7,403.7 472.0,409.5 475.9,415.3 478.8,418.2 480.0,419.2 M480.7,418.2 482.6,422.1 484.6,427.9 486.5,432.8 489.4,433.7 493.3,431.8 499.1,431.8 502.0,433.7 503.0,438.6 M503.0,437.0 510.8,437.0 520.5,436.7 526.3,435.7 530.2,433.7 534.1,432.8 538.9,433.4 541.8,435.7 547.7,434.3 553.5,431.8 558.3,427.9 562.2,423.1 566.1,417.2 570.0,414.9 576.8,413.7 584.6,412.4 588.4,412.4 592.3,414.3 596.2,415.7 605.9,415.7 610.0,415.7 M540.0,435.1 545.8,433.7 554.6,431.8 559.4,427.9 565.2,419.2 569.1,415.3 578.8,413.0 586.6,412.4 592.4,415.3 598.3,416.3 606.0,416.3 614.8,414.3 619.6,413.0 620.6,408.5 621.6,400.7 625.4,397.8 633.2,397.8 637.1,398.8 644.9,399.8 650.7,398.8 653.6,394.9 657.5,393.0 M635.1,392.0 635.1,396.9 637.1,398.8 M611.8,473.6 609.9,469.7 612.8,465.8 618.6,462.9 625.4,460.0 629.3,456.1 630.3,454.1 633.2,456.1 635.1,460.9 631.3,464.8 627.4,466.8 629.3,471.6 635.1,475.5 642.9,479.4 651.7,484.2 657.5,486.2 658.8,488.1 M609.3,469.9 611.3,473.7 611.7,479.6 609.3,486.4 607.4,494.1 608.3,500.0 610.3,504.8 615.1,507.7 619.0,511.6 622.9,517.4 626.8,522.3 629.7,530.1 630.7,536.9 634.6,539.8 641.4,545.6 M100.0,342.2 103.9,346.1 108.7,350.3 113.6,351.5 121.4,352.3 131.1,353.5 138.8,352.3 146.6,351.5 152.4,352.3 158.3,351.5 166.0,350.3 172.8,349.6 177.7,350.9 181.2,354.8 183.1,359.7 181.6,364.5 176.7,367.4 171.8,371.3 167.0,374.2 163.7,376.2 162.5,380.1 163.7,384.9 167.0,389.8 172.8,391.7 178.6,394.6 185.4,397.5 191.3,399.5 195.1,401.4 M191.3,399.8 201.0,403.7 208.7,407.5 216.5,411.0 224.3,413.4 232.0,416.3 240.0,418.2 M100.0,489.3 103.9,489.9 111.7,492.2 118.4,497.0 126.2,505.4 131.1,505.4 137.9,500.0 143.7,500.0 149.5,504.8 153.4,510.6 156.3,516.5 156.7,527.1 158.3,533.0 162.1,539.8 166.0,546.6 M240.0,464.6 234.0,467.0 228.2,472.8 222.3,480.5 219.4,489.3 215.5,494.1 211.1,498.0 210.3,503.8 208.7,509.7 205.8,515.5 202.9,521.3 202.9,527.1 205.8,533.0 211.7,535.5 219.4,535.5 226.2,539.8 234.0,546.6 M230.0,416.3 237.8,418.2 247.5,422.1 255.2,427.9 M255.2,428.1 260.1,432.0 265.0,436.9 272.7,441.3 282.4,445.2 294.1,449.9 304.8,453.4 305.7,460.2 313.5,467.0 323.2,473.7 331.0,481.5 335.8,490.3 337.8,496.1 335.8,500.9 331.9,504.8 330.0,510.6 330.0,517.4 329.0,521.7 323.2,519.4 318.3,518.4 311.6,514.5 305.7,509.7 303.8,505.8 304.8,500.0 302.8,492.2 297.0,483.5 292.1,482.1 280.5,482.1 269.8,481.9 259.1,477.6 251.0,472.8 255.2,467.9 258.2,466.6 253.3,466.0 247.5,464.6 241.7,464.0 235.8,466.0 231.0,471.8 228.1,474.7 M517.8,333.5 518.0,338.5 524.8,338.8 525.0,333.6 517.8,333.5" stroke-width="2"/><path d="M461.1,278.4 465.0,277.7 468.9,276.5 472.7,274.5 470.2,272.6 469.5,270.6 471.5,268.9 474.7,266.7 477.9,265.4 481.2,263.5 482.5,260.9 483.1,258.3 481.8,255.7 480.5,253.1 478.6,251.2 477.7,249.5 479.2,249.0 484.4,247.3 487.6,246.0 491.5,244.7 494.1,246.7 496.1,248.0 494.1,250.5 494.8,251.8 498.7,253.8 502.5,255.7 506.4,255.7 509.7,255.7 511.6,257.0 514.2,258.3 515.5,260.9 516.1,264.8 518.7,265.4 520.0,268.0 520.7,270.6 522.6,273.2 M522.9,269.1 527.8,273.0 532.6,276.9 531.7,280.7 530.7,284.6 535.5,286.6 543.3,288.5 547.2,290.4 555.0,291.4 M547.7,291.7 554.5,290.7 555.4,294.6 554.5,299.5 552.5,303.4 548.6,306.3 546.7,310.2 545.7,314.0 541.8,316.0 539.5,317.9 540.9,320.8 543.4,322.8 M520.0,270.6 522.6,273.2 524.0,271.5" stroke-width="1.2"/><path d="M392.5,340 L396.5,338 L397,348 L396,357 L393.5,358 L392.5,350Z" fill="#000" stroke="none"/></g><rect x="104" y="66" width="555" height="480" fill="none" stroke="#000" stroke-width="2"/><path d="M104.5 547V550M170.5 547V550M237.5 547V550M304.5 547V550M370.5 547V550M437.5 547V550M504.5 547V550M570.5 547V550M637.5 547V550M100 66.5H103M100 106.5H103M100 146.5H103M100 186.5H103M100 226.5H103M100 266.5H103M100 306.5H103M100 346.5H103M100 386.5H103M100 426.5H103M100 466.5H103M100 506.5H103M100 546.5H103" stroke="#000" stroke-width="1" fill="none"/><path d="M683 115.6L690 83L698 115.6Z" fill="#9614ff"/><rect x="683" y="115.6" width="15" height="32.0" fill="#3c3cff"/><rect x="683" y="147.4" width="15" height="32.0" fill="#50a5f5"/><rect x="683" y="179.2" width="15" height="32.0" fill="#96d2fa"/><rect x="683" y="211.0" width="15" height="32.0" fill="#0fa00f"/><rect x="683" y="242.8" width="15" height="32.0" fill="#7df573"/><rect x="683" y="274.6" width="15" height="32.0" fill="#fff"/><rect x="683" y="306.4" width="15" height="32.0" fill="#fff"/><rect x="683" y="338.2" width="15" height="32.0" fill="#ffffc8"/><rect x="683" y="370.0" width="15" height="32.0" fill="#f5c83c"/><rect x="683" y="401.8" width="15" height="32.0" fill="#fa9641"/><rect x="683" y="433.6" width="15" height="32.0" fill="#ff0000"/><rect x="683" y="465.4" width="15" height="32.0" fill="#b40000"/><path d="M683 497.2L690 529L698 497.2Z" fill="#780000"/><path d="M683 147.5H698M683 179.5H698M683 211.5H698M683 243.5H698M683 275.5H698M683 306.5H698M683 338.5H698M683 370.5H698M683 402.5H698M683 434.5H698M683 465.5H698M683 497.5H698" stroke="#000" stroke-width="1"/><path d="M683.5 115.6V497.2M683.5 115.6L690 83M683.5 497.2L690 529" stroke="#000" stroke-width="1" fill="none"/><text x="34.50" y="21.00" font-family="Liberation Sans, sans-serif" font-size="14" font-weight="normal" letter-spacing="0.8" textLength="208.53" lengthAdjust="spacingAndGlyphs">wrf-nmmE_v3.9.1-e3km</text><text x="31.50" y="43.00" font-family="Liberation Sans, sans-serif" font-size="14.5" font-weight="normal" letter-spacing="0.8" textLength="18.73" lengthAdjust="spacingAndGlyphs" stroke="#000" stroke-width="0.15">3h</text><text x="61.00" y="43.00" font-family="Liberation Sans, sans-serif" font-size="14.5" font-weight="normal" letter-spacing="0.8" textLength="74.01" lengthAdjust="spacingAndGlyphs" stroke="#000" stroke-width="0.15">Acc.Snow</text><text x="145.50" y="43.00" font-family="Liberation Sans, sans-serif" font-size="14.5" font-weight="normal" letter-spacing="0.8" textLength="72.21" lengthAdjust="spacingAndGlyphs" stroke="#000" stroke-width="0.15">[cm/3h]</text><text x="432.00" y="20.80" font-family="Liberation Sans, sans-serif" font-size="14" font-weight="normal" letter-spacing="0.8" textLength="104.58" lengthAdjust="spacingAndGlyphs" stroke="#000" stroke-width="0.2">initialisation:</text><text x="544.50" y="20.80" font-family="Liberation Sans, sans-serif" font-size="14" font-weight="normal" letter-spacing="0.8" textLength="98.59" lengthAdjust="spacingAndGlyphs" stroke="#000" stroke-width="0.2">2021.12.15.</text><text x="661.50" y="20.80" font-family="Liberation Sans, sans-serif" font-size="14" font-weight="normal" letter-spacing="0.8" textLength="86.09" lengthAdjust="spacingAndGlyphs" stroke="#000" stroke-width="0.2">12:00 UTC</text><text x="429.00" y="42.60" font-family="Liberation Sans, sans-serif" font-size="14" font-weight="normal" letter-spacing="0.8" textLength="100.04" lengthAdjust="spacingAndGlyphs" stroke="#000" stroke-width="0.2">valid(+97h):</text><text x="540.00" y="42.60" font-family="Liberation Sans, sans-serif" font-size="14" font-weight="normal" letter-spacing="0.8" textLength="100.01" lengthAdjust="spacingAndGlyphs" stroke="#000" stroke-width="0.2">2021.DEC.19</text><text x="651.50" y="42.60" font-family="Liberation Sans, sans-serif" font-size="14" font-weight="normal" letter-spacing="0.8" textLength="84.57" lengthAdjust="spacingAndGlyphs" stroke="#000" stroke-width="0.2">13:00 UTC</text><text x="70.00" y="70.50" font-family="Liberation Sans, sans-serif" font-size="11" font-weight="bold" letter-spacing="0" textLength="27.53" lengthAdjust="spacingAndGlyphs">45.5N</text><text x="78.50" y="110.50" font-family="Liberation Sans, sans-serif" font-size="11" font-weight="bold" letter-spacing="0" textLength="19.03" lengthAdjust="spacingAndGlyphs">45N</text><text x="70.00" y="150.50" font-family="Liberation Sans, sans-serif" font-size="11" font-weight="bold" letter-spacing="0" textLength="27.53" lengthAdjust="spacingAndGlyphs">44.5N</text><text x="78.50" y="190.50" font-family="Liberation Sans, sans-serif" font-size="11" font-weight="bold" letter-spacing="0" textLength="19.03" lengthAdjust="spacingAndGlyphs">44N</text><text x="70.00" y="230.50" font-family="Liberation Sans, sans-serif" font-size="11" font-weight="bold" letter-spacing="0" textLength="27.53" lengthAdjust="spacingAndGlyphs">43.5N</text><text x="78.50" y="270.50" font-family="Liberation Sans, sans-serif" font-size="11" font-weight="bold" letter-spacing="0" textLength="19.03" lengthAdjust="spacingAndGlyphs">43N</text><text x="70.00" y="310.50" font-family="Liberation Sans, sans-serif" font-size="11" font-weight="bold" letter-spacing="0" textLength="27.53" lengthAdjust="spacingAndGlyphs">42.5N</text><text x="78.50" y="350.50" font-family="Liberation Sans, sans-serif" font-size="11" font-weight="bold" letter-spacing="0" textLength="19.03" lengthAdjust="spacingAndGlyphs">42N</text><text x="70.00" y="390.50" font-family="Liberation Sans, sans-serif" font-size="11" font-weight="bold" letter-spacing="0" textLength="27.53" lengthAdjust="spacingAndGlyphs">41.5N</text><text x="78.50" y="430.50" font-family="Liberation Sans, sans-serif" font-size="11" font-weight="bold" letter-spacing="0" textLength="19.03" lengthAdjust="spacingAndGlyphs">41N</text><text x="70.00" y="470.50" font-family="Liberation Sans, sans-serif" font-size="11" font-weight="bold" letter-spacing="0" textLength="27.53" lengthAdjust="spacingAndGlyphs">40.5N</text><text x="78.50" y="510.50" font-family="Liberation Sans, sans-serif" font-size="11" font-weight="bold" letter-spacing="0" textLength="19.03" lengthAdjust="spacingAndGlyphs">40N</text><text x="70.00" y="550.50" font-family="Liberation Sans, sans-serif" font-size="11" font-weight="bold" letter-spacing="0" textLength="27.53" lengthAdjust="spacingAndGlyphs">39.5N</text><text x="96.00" y="560.00" font-family="Liberation Sans, sans-serif" font-size="11" font-weight="bold" letter-spacing="0" textLength="17.00" lengthAdjust="spacingAndGlyphs">15E</text><text x="162.00" y="560.00" font-family="Liberation Sans, sans-serif" font-size="11" font-weight="bold" letter-spacing="0" textLength="17.00" lengthAdjust="spacingAndGlyphs">16E</text><text x="229.00" y="560.00" font-family="Liberation Sans, sans-serif" font-size="11" font-weight="bold" letter-spacing="0" textLength="17.00" lengthAdjust="spacingAndGlyphs">17E</text><text x="296.00" y="560.00" font-family="Liberation Sans, sans-serif" font-size="11" font-weight="bold" letter-spacing="0" textLength="17.00" lengthAdjust="spacingAndGlyphs">18E</text><text x="362.00" y="560.00" font-family="Liberation Sans, sans-serif" font-size="11" font-weight="bold" letter-spacing="0" textLength="17.00" lengthAdjust="spacingAndGlyphs">19E</text><text x="429.00" y="560.00" font-family="Liberation Sans, sans-serif" font-size="11" font-weight="bold" letter-spacing="0" textLength="17.00" lengthAdjust="spacingAndGlyphs">20E</text><text x="496.00" y="560.00" font-family="Liberation Sans, sans-serif" font-size="11" font-weight="bold" letter-spacing="0" textLength="17.00" lengthAdjust="spacingAndGlyphs">21E</text><text x="562.00" y="560.00" font-family="Liberation Sans, sans-serif" font-size="11" font-weight="bold" letter-spacing="0" textLength="17.00" lengthAdjust="spacingAndGlyphs">22E</text><text x="629.00" y="560.00" font-family="Liberation Sans, sans-serif" font-size="11" font-weight="bold" letter-spacing="0" textLength="17.00" lengthAdjust="spacingAndGlyphs">23E</text><text x="702.00" y="119.90" font-family="Liberation Sans, sans-serif" font-size="11.5" font-weight="bold" letter-spacing="0" textLength="14.08" lengthAdjust="spacingAndGlyphs">15</text><text x="702.00" y="151.70" font-family="Liberation Sans, sans-serif" font-size="11.5" font-weight="bold" letter-spacing="0" textLength="14.08" lengthAdjust="spacingAndGlyphs">10</text><text x="702.00" y="183.50" font-family="Liberation Sans, sans-serif" font-size="11.5" font-weight="bold" letter-spacing="0">5</text><text x="702.00" y="215.30" font-family="Liberation Sans, sans-serif" font-size="11.5" font-weight="bold" letter-spacing="0">2</text><text x="702.00" y="247.10" font-family="Liberation Sans, sans-serif" font-size="11.5" font-weight="bold" letter-spacing="0">1</text><text x="701.50" y="278.90" font-family="Liberation Sans, sans-serif" font-size="11.5" font-weight="bold" letter-spacing="0" textLength="19.02" lengthAdjust="spacingAndGlyphs">0.3</text><text x="701.50" y="310.70" font-family="Liberation Sans, sans-serif" font-size="11.5" font-weight="bold" letter-spacing="0">0</text><text x="701.00" y="342.50" font-family="Liberation Sans, sans-serif" font-size="11.5" font-weight="bold" letter-spacing="0" textLength="28.54" lengthAdjust="spacingAndGlyphs">−0.3</text><text x="702.00" y="374.30" font-family="Liberation Sans, sans-serif" font-size="11.5" font-weight="bold" letter-spacing="0" textLength="14.05" lengthAdjust="spacingAndGlyphs">−1</text><text x="701.00" y="406.10" font-family="Liberation Sans, sans-serif" font-size="11.5" font-weight="bold" letter-spacing="0" textLength="17.61" lengthAdjust="spacingAndGlyphs">−2</text><text x="701.00" y="437.90" font-family="Liberation Sans, sans-serif" font-size="11.5" font-weight="bold" letter-spacing="0" textLength="17.61" lengthAdjust="spacingAndGlyphs">−5</text><text x="701.00" y="469.70" font-family="Liberation Sans, sans-serif" font-size="11.5" font-weight="bold" letter-spacing="0" textLength="25.59" lengthAdjust="spacingAndGlyphs">−10</text><text x="701.00" y="501.50" font-family="Liberation Sans, sans-serif" font-size="11.5" font-weight="bold" letter-spacing="0" textLength="25.59" lengthAdjust="spacingAndGlyphs">−15</text><text x="4.00" y="615.50" font-family="Liberation Sans, sans-serif" font-size="10" font-weight="bold" letter-spacing="0" textLength="86.00" lengthAdjust="spacingAndGlyphs">GrADS: COLA/IGES</text><text x="684.00" y="615.70" font-family="Liberation Sans, sans-serif" font-size="10" font-weight="bold" letter-spacing="0" textLength="93.51" lengthAdjust="spacingAndGlyphs">2021-12-15-23:05</text></svg></body></html>
